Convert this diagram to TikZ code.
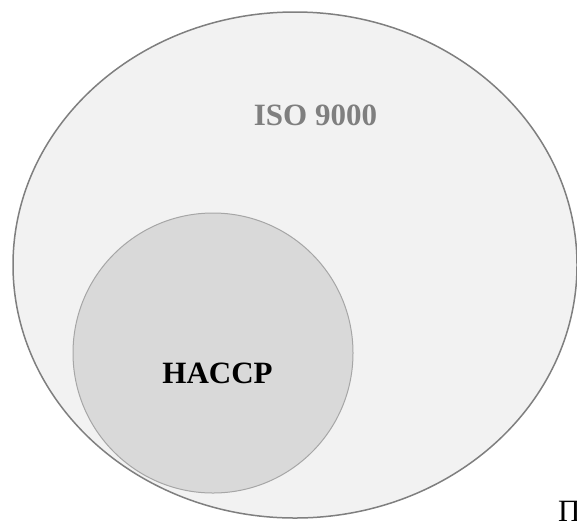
\documentclass[tikz,border=0pt]{standalone}
\usepackage{fontspec}
\setmainfont{Liberation Serif}
\definecolor{outerfill}{HTML}{F2F2F2}
\definecolor{outerline}{HTML}{7F7F7F}
\definecolor{innerfill}{HTML}{D9D9D9}
\definecolor{innerline}{HTML}{A6A6A6}
\definecolor{isotext}{HTML}{7F7F7F}
\tikzset{
  setlabel/.style={inner sep=0pt, anchor=base, font=\fontsize{31}{31}\selectfont\bfseries},
}
\begin{document}
\begin{tikzpicture}[x=1pt,y=-1pt]
  \useasboundingbox (0,0) rectangle (577,520);
  \clip (0,0) rectangle (577,520);
  % outer set: ISO 9000
  \draw[fill=outerfill, draw=outerline, line width=1.5pt] (295,265) ellipse [x radius=282, y radius=253];
  % inner set: HACCP
  \draw[fill=innerfill, draw=innerline, line width=1pt] (213,353) circle [radius=140];
  \node[setlabel, text=isotext] (iso) at (315.5,125) {ISO 9000};
  \node[setlabel, text=black] (haccp) at (217.5,383) {HACCP};
  \node[inner sep=0pt, anchor=base west, font=\fontsize{31}{31}\selectfont] (pe) at (558,521) {П};
\end{tikzpicture}
\end{document}
